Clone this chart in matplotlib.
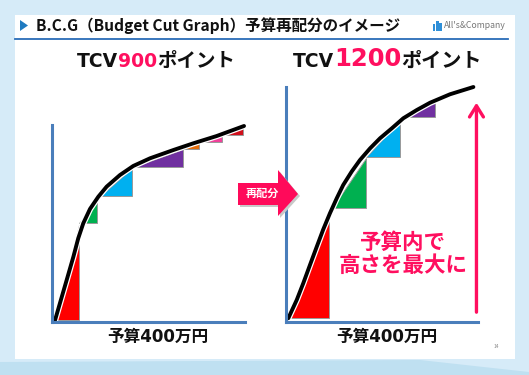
import matplotlib.pyplot as plt
import matplotlib.patches as mpatches
import matplotlib.patheffects as pe

plt.rcParams['font.family'] = ['Noto Sans CJK JP', 'DejaVu Sans']

W, H = 529, 375
PINK = '#ff0f5f'
AXIS_BLUE = '#4a7ebb'
LATIN_FIRST = ['DejaVu Sans', 'Noto Sans CJK JP']

# budget (x) vs height (y), both on a 0-100 scale inside each chart
left_curve_x = [1.6, 4.1, 7.6, 11.1, 13.6, 16.2, 19.7, 24.0, 28.3, 35.2, 42.1,
                50.8, 62.9, 73.2, 85.3, 99.5]
left_curve_y = [1.0, 9.5, 21.3, 33.2, 42.5, 50.1, 57.4, 63.6, 68.7, 74.6, 79.2,
                83.1, 87.3, 90.7, 94.4, 99.5]
left_step_x0 = [1.6, 14.0, 24.9, 42.0, 67.9, 76.2, 88.1]
left_step_x1 = [14.0, 23.3, 41.5, 67.9, 76.2, 88.1, 99.0]
left_step_y0 = [1.0, 50.3, 64.0, 78.7, 87.8, 91.4, 94.9]
left_step_y1 = [49.2, 60.9, 78.2, 87.8, 91.4, 94.9, 99.0]
left_colors = ['#ff0000', '#00b050', '#00b0f0', '#7030a0', '#e46c0a', '#f0409a', '#d0101c']

right_curve_x = [1.2, 5.6, 9.0, 12.5, 16.0, 19.4, 22.9, 26.4, 29.8, 34.2, 38.5,
                 43.8, 49.0, 55.1, 61.1, 68.1, 75.0, 85.4, 97.6]
right_curve_y = [1.6, 9.4, 16.5, 24.3, 32.0, 39.4, 46.3, 52.6, 58.3, 64.0, 68.9,
                 73.9, 78.2, 82.4, 86.7, 90.2, 93.3, 96.9, 100.0]
right_step_x0 = [1.2, 23.8, 41.7, 62.0]
right_step_x1 = [22.6, 41.7, 59.4, 77.6]
right_step_y0 = [1.6, 48.4, 70.1, 87.4]
right_step_y1 = [47.7, 69.7, 86.0, 93.7]
right_colors = ['#ff0000', '#00b050', '#00b0f0', '#7030a0']

title_text = 'B.C.G（Budget Cut Graph）予算再配分のイメージ'
left_title = ['TCV', '900', 'ポイント']
right_title = ['TCV', '1200', 'ポイント']
x_label = '予算400万円'
note_text = '予算内で\n高さを最大に'
arrow_text = '再配分'


def px_axes(fig, left, right, top, bottom, **kw):
    return fig.add_axes([left / W, 1 - bottom / H, (right - left) / W, (bottom - top) / H], **kw)


fig = plt.figure(figsize=(W / 100, H / 100), dpi=100, facecolor='#d6ebf8')

# slide background
bg = fig.add_axes([0, 0, 1, 1], zorder=0)
bg.set_xlim(0, W)
bg.set_ylim(H, 0)
bg.axis('off')
bg.add_patch(mpatches.Polygon([(0, 362), (0, H), (W, H), (W, 372), (420, 360)],
                              closed=True, color='#bfe0f1', lw=0))
bg.add_patch(mpatches.Rectangle((15, 15), 500, 344, color='white', lw=0))
bg.add_patch(mpatches.Polygon([(20, 20), (20, 31), (28, 25.5)], color='#1f7ac0', lw=0))
bg.text(36, 25.5, title_text, fontsize=11.2, fontweight='bold', va='center', color='#111111')
bg.plot([15, 508], [38.5, 38.5], color='#2a6cb8', lw=1.3)
for i, h in enumerate([7, 10, 8]):
    bg.add_patch(mpatches.Rectangle((433 + i * 3.2, 31 - h), 2.4, h, color='#2f8fd8', lw=0))
bg.text(444, 25.5, "All's&Company", fontsize=6.3, color='#777777', va='center')
bg.text(496, 346, '14', fontsize=3.5, color='#888888', ha='center', va='center')


def draw_chart(ax, cx, cy, x0, x1, y0, y1, colors):
    ax.set_xlim(0, 100)
    ax.set_ylim(0, 100)
    ax.set_facecolor('none')
    for s in ['top', 'right']:
        ax.spines[s].set_visible(False)
    for s in ['left', 'bottom']:
        ax.spines[s].set_color(AXIS_BLUE)
        ax.spines[s].set_linewidth(2.2)
    ax.set_xticks([])
    ax.set_yticks([])
    for a, b, c, d, col in zip(x0, x1, y0, y1, colors):
        ax.fill([a, b, b], [c, c, d], facecolor=col, edgecolor='#9a9a9a', lw=0.7)
    ax.plot(cx, cy, color='black', lw=2.8, solid_capstyle='round', solid_joinstyle='round',
            clip_on=False,
            path_effects=[pe.Stroke(linewidth=4.6, foreground='white'), pe.Normal()])


axl = px_axes(fig, 52, 245, 125, 322, zorder=2)
draw_chart(axl, left_curve_x, left_curve_y, left_step_x0, left_step_x1,
           left_step_y0, left_step_y1, left_colors)

axr = px_axes(fig, 286, 478, 87, 322, zorder=2)
draw_chart(axr, right_curve_x, right_curve_y, right_step_x0, right_step_x1,
           right_step_y0, right_step_y1, right_colors)
axr.annotate('', xy=(99.2, 94.5), xytext=(99.2, 3), annotation_clip=False,
             arrowprops=dict(arrowstyle='->,head_length=0.8,head_width=0.5',
                             color=PINK, lw=2.4))
axr.text(61, 29, note_text, color=PINK, fontsize=15.5, fontweight='bold',
         ha='center', va='center', linespacing=1.15)

# overlay: titles, labels, middle arrow
fg = fig.add_axes([0, 0, 1, 1], zorder=5)
fg.set_xlim(0, W)
fg.set_ylim(H, 0)
fg.axis('off')
fg.patch.set_alpha(0)


def multi_title(x, y, parts, sizes, cols):
    t = fg.text(x, y, parts[0], fontsize=sizes[0], fontweight='bold', color=cols[0],
                va='baseline', family=LATIN_FIRST)
    for p, s, c in zip(parts[1:], sizes[1:], cols[1:]):
        t = fg.annotate(p, xy=(1, 0), xycoords=t, fontsize=s, fontweight='bold',
                        color=c, va='bottom', family=LATIN_FIRST)
    return t


multi_title(77, 67, left_title, [13.5, 13.5, 14], ['#111111', PINK, '#111111'])
multi_title(293, 67, right_title, [13.5, 17.5, 14.5], ['#111111', PINK, '#111111'])

for cx in [158, 387]:
    fg.text(cx, 337, x_label, fontsize=12, fontweight='bold', ha='center', va='center',
            color='#111111', family=LATIN_FIRST)

arrow_pts = [(238, 183), (278, 183), (278, 170), (298, 194), (278, 216), (278, 205), (238, 205)]
fg.add_patch(mpatches.Polygon([(x + 2, y + 2) for x, y in arrow_pts], color='#c8c8c8', lw=0))
fg.add_patch(mpatches.Polygon(arrow_pts, color='#ff0a5a', lw=0))
fg.text(262, 193.5, arrow_text, fontsize=8, fontweight='bold', color='white', ha='center', va='center')

fig.savefig('out.png', dpi=100, facecolor=fig.get_facecolor())
